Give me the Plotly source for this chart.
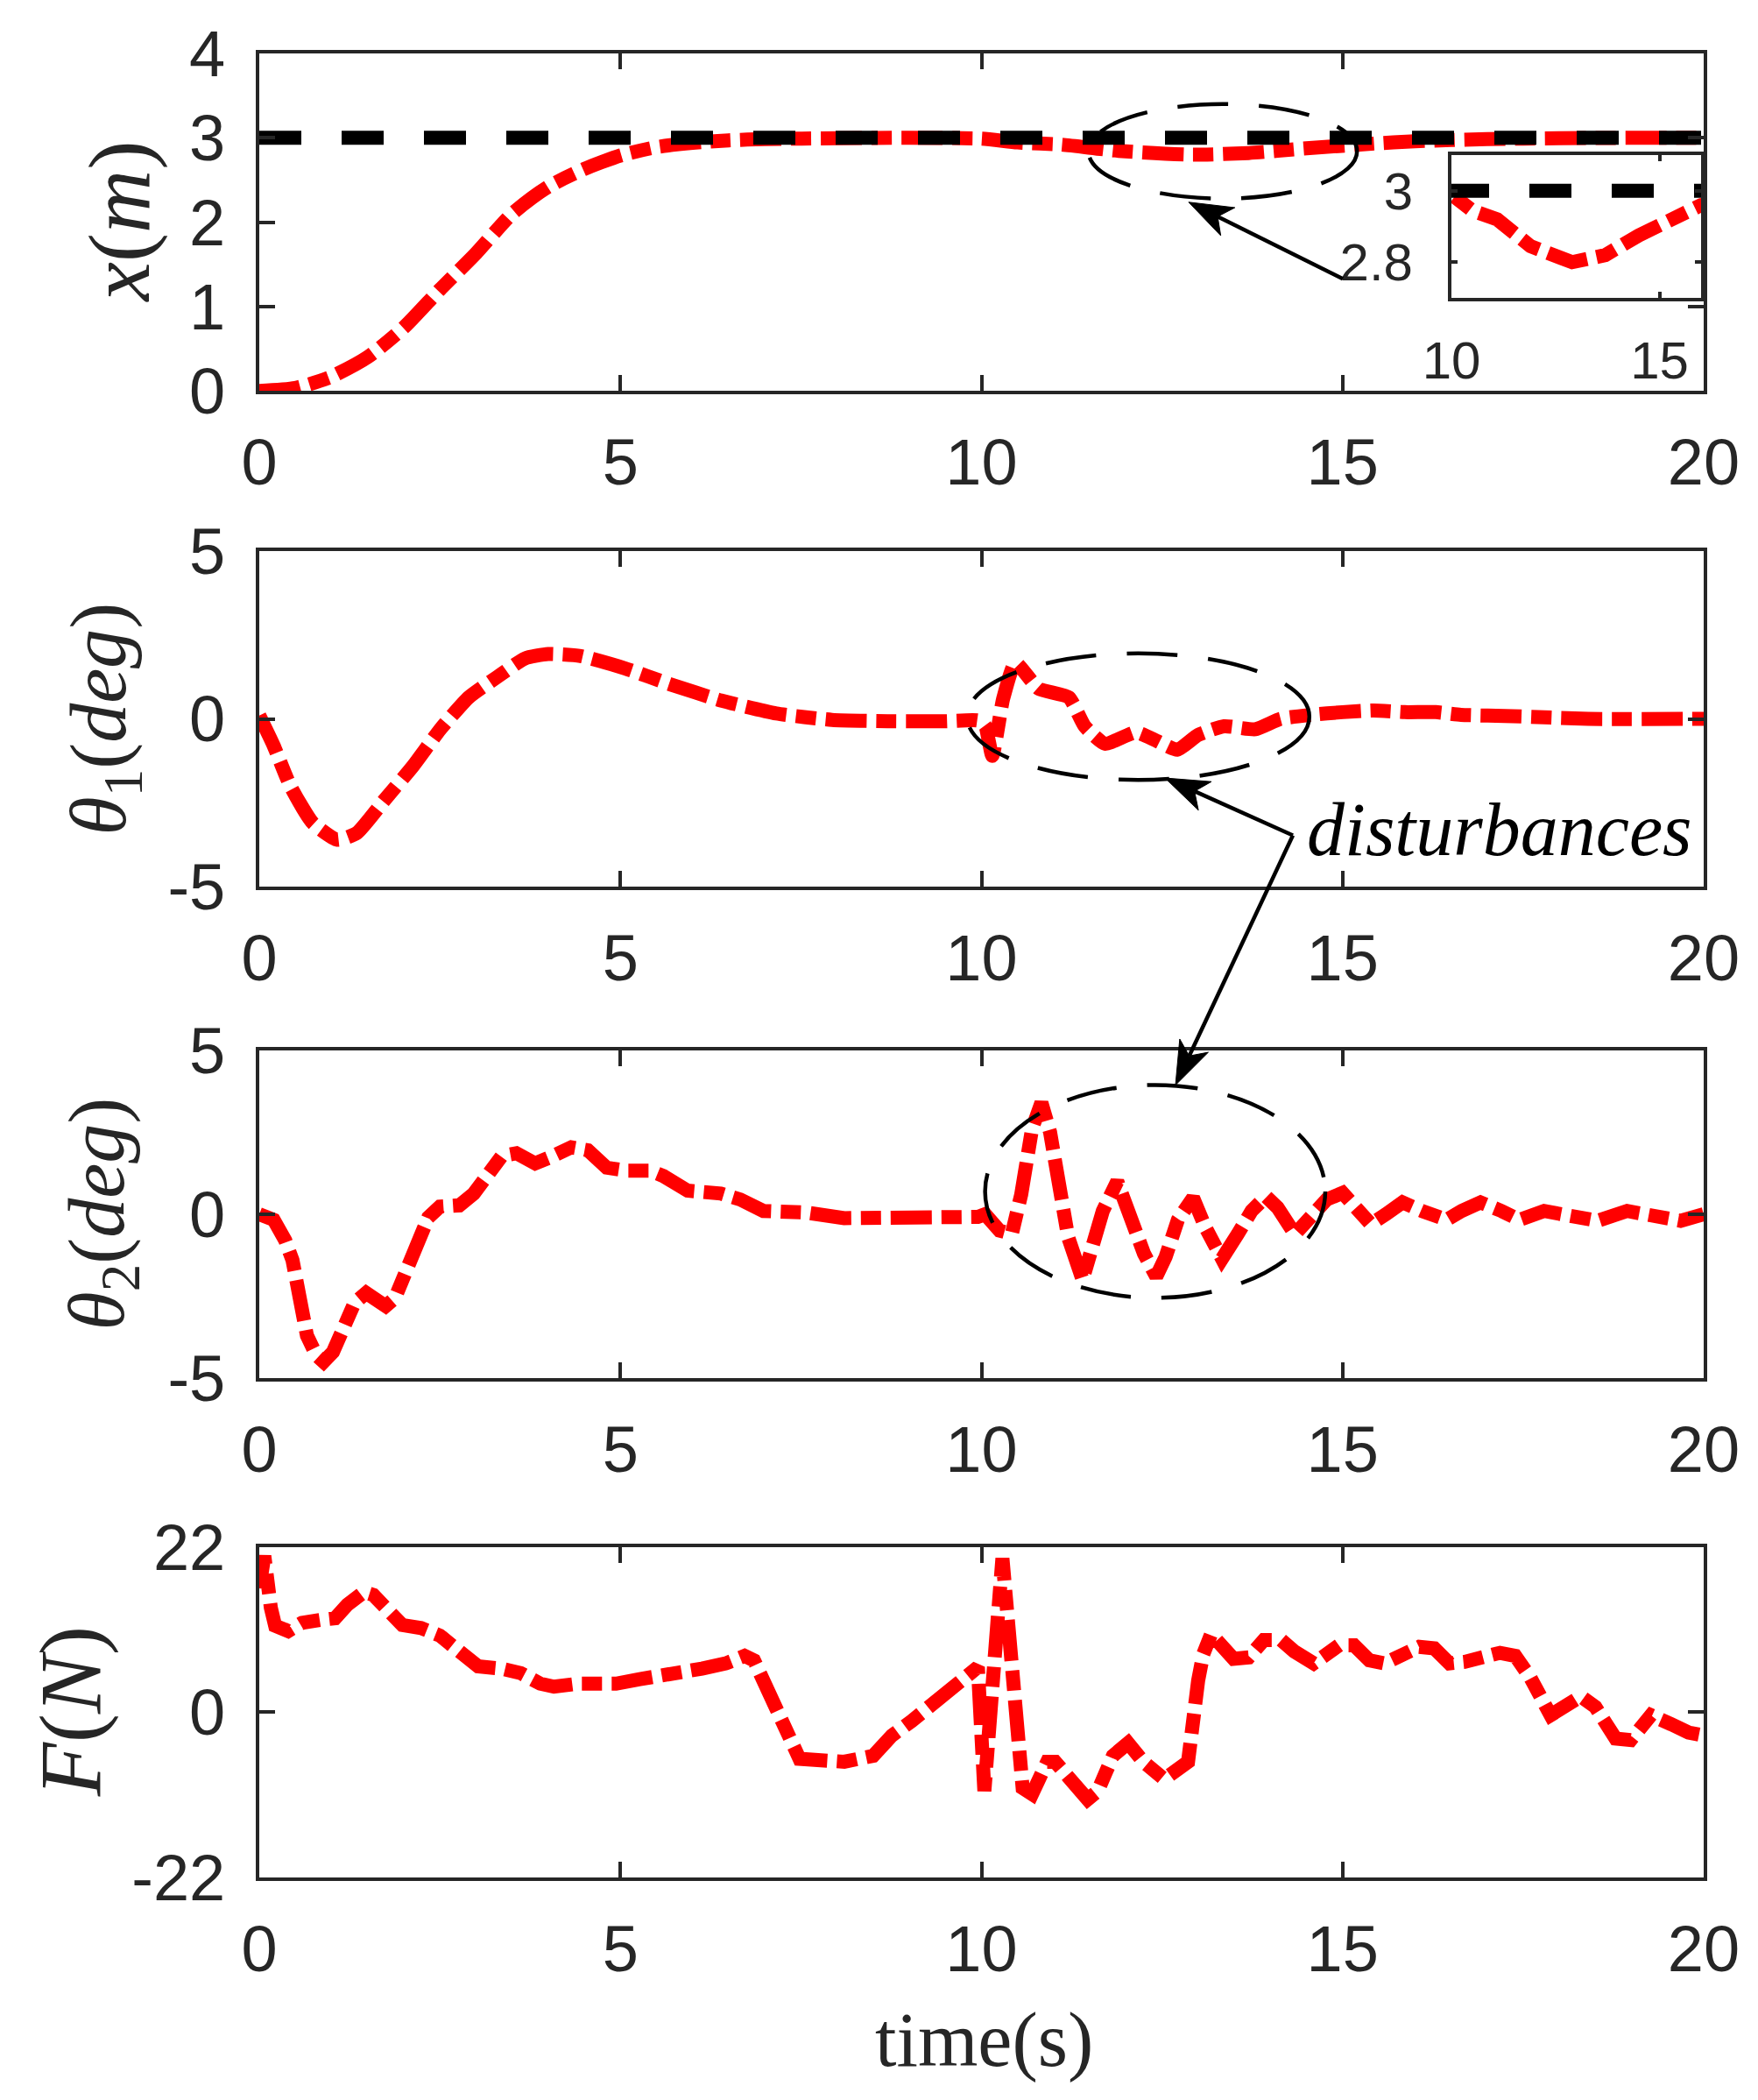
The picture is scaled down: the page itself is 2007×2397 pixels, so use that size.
import math
import plotly.graph_objects as go

# ---- data ----
t_x = [0, 0.5, 1.0, 1.5, 2.0, 2.5, 3.0, 3.5, 4.0, 4.5, 5.0, 5.5, 6.0, 6.5, 7.0, 8.0, 9.0, 10.0,
       10.5, 11.1, 11.9, 12.9, 13.7, 14.5, 15.4, 16.0, 17.0, 18.0, 19.0, 20.0]
x_pos = [0, 0.035, 0.17, 0.4, 0.75, 1.2, 1.63, 2.1, 2.42, 2.63, 2.79, 2.89, 2.94, 2.97, 2.985, 2.995, 3.0, 2.99,
         2.945, 2.92, 2.845, 2.80, 2.82, 2.875, 2.93, 2.96, 2.985, 2.995, 3.0, 3.0]
t_ref = [0, 20]
x_ref = [3, 3]

t_th1 = [0, 0.2, 0.43, 0.74, 1.08, 1.35, 1.74, 2.13, 2.51, 2.9, 3.29, 3.68, 4.0, 4.45, 5.07, 5.69,
         6.39, 7.16, 7.93, 8.7, 9.5, 9.95, 10.05, 10.15, 10.3, 10.47, 10.79, 11.21, 11.43, 11.71,
         12.14, 12.43, 12.71, 13.0, 13.36, 13.79, 14.14, 14.57, 15.0, 15.43, 15.86, 16.29, 16.64,
         17.36, 18.4, 20.0]
th1 = [0.1, -0.8, -2.0, -3.1, -3.6, -3.4, -2.4, -1.4, -0.3, 0.64, 1.24, 1.8, 1.93, 1.87, 1.5, 1.03,
       0.55, 0.16, -0.03, -0.07, -0.07, -0.05, -0.2, -1.1, 0.6, 1.67, 0.9, 0.64, -0.22, -0.74,
       -0.4, -0.66, -0.92, -0.48, -0.22, -0.31, 0.0, 0.12, 0.2, 0.25, 0.2, 0.2, 0.12,
       0.08, 0.0, 0.0]

t_th2 = [0, 0.2, 0.36, 0.46, 0.56, 0.66, 0.79, 0.89, 1.02, 1.15, 1.32, 1.48, 1.75, 1.88, 2.04, 2.18,
         2.34, 2.5, 2.77, 2.97, 3.16, 3.36, 3.56, 3.82, 4.02, 4.32, 4.55, 4.81, 5.08, 5.41, 5.6, 5.93,
         6.39, 6.66, 6.98, 7.58, 8.1, 9.03, 9.95,
         10.05, 10.25, 10.42, 10.55, 10.7, 10.83, 10.95, 11.08, 11.2, 11.4, 11.54, 11.68, 11.88,
         12.08, 12.25, 12.42, 12.55, 12.72, 12.93, 13.1, 13.33, 13.55, 13.74, 13.94, 14.1, 14.34,
         14.55, 14.78, 15.0, 15.2, 15.39, 15.6, 15.83, 16.1, 16.44, 16.65, 16.91, 17.2, 17.45,
         17.79, 18.1, 18.53, 18.94, 19.3, 19.68, 20.0]
th2 = [0, -0.17, -0.8, -1.4, -2.55, -3.7, -4.3, -4.5, -4.2, -3.45, -2.7, -2.4, -2.8, -2.55, -1.75, -0.8,
       -0.1, 0.23, 0.27, 0.63, 1.25, 1.78, 1.86, 1.55, 1.73, 2.04, 1.95, 1.42, 1.33, 1.33, 1.16, 0.72,
       0.63, 0.45, 0.1, 0.05, -0.12, -0.12, -0.08,
       0.0, -0.5, -0.6, 0.6, 2.6, 3.4, 2.5, 0.8, -0.7, -2.0, -1.1, 0.1, 1.0,
       -0.34, -1.2, -1.9, -1.3, -0.17, 0.5, -0.4, -1.36, -0.6, 0.1, 0.54, 0.2, -0.61,
       -0.1, 0.45, 0.65, 0.2, -0.3, 0.0, 0.36, 0.1, -0.17, 0.1, 0.36, 0.1, -0.17,
       0.1, 0.0, -0.2, 0.1, 0.0, -0.2, 0.0]

t_f = [0, 0.07, 0.16, 0.22, 0.4, 0.59, 0.86, 1.05, 1.22, 1.45, 1.58, 1.78, 1.98, 2.24, 2.5, 2.77,
       3.03, 3.36, 3.62, 3.89, 4.08, 4.41, 4.94, 5.27, 5.73, 6.13, 6.46, 6.72, 6.85, 7.05, 7.21,
       7.35, 7.48, 7.71, 8.1, 8.5, 8.76, 9.03, 9.29, 9.55, 9.82, 9.95, 10.04, 10.11, 10.22, 10.29,
       10.39, 10.5, 10.57, 10.7, 10.91, 11.02, 11.19, 11.47, 11.61, 11.82, 12.03, 12.24, 12.53,
       12.72, 12.86, 13.0, 13.07, 13.18, 13.28, 13.49, 13.7, 13.91, 14.15, 14.33, 14.6, 14.95,
       15.16, 15.37, 15.58, 16.06, 16.27, 16.48, 16.69, 17.18, 17.39, 17.6, 17.88, 18.09, 18.3,
       18.5, 18.78, 18.99, 19.27, 19.55, 19.79, 20.0]
force = [16.5, 20.8, 13.9, 11.5, 10.8, 11.9, 12.3, 12.5, 14.3, 16.0, 15.6, 13.9, 11.6, 11.2, 10.2, 8.1,
         6.1, 5.8, 5.2, 3.8, 3.4, 3.8, 3.8, 4.4, 5.4, 5.8, 6.5, 7.5, 6.9, 3.1, -0.4,
         -3.5, -6.2, -6.2, -6.6, -5.8, -3.1, -1.2, 0.7, 2.7, 5.0, 6.0, -10.5, -3.5, 11.9, 20.5,
         8.1, -3.5, -10.1, -10.9, -6.6, -6.6, -8.5, -11.6, -10.5, -5.8, -4.1, -6.6, -8.9,
         -7.4, -6.6, 4.2, 7.7, 10.4, 9.2, 7.1, 7.3, 9.6, 9.6, 8.1, 6.5, 8.9,
         8.9, 6.9, 6.5, 8.7, 8.5, 6.5, 6.7, 7.9, 7.5, 4.6, -0.4, 0.7, 2.1,
         0.7, -3.5, -3.7, -0.4, -1.6, -2.7, -3.1]

x_ticks = [0, 5, 10, 15, 20]

# ---- layout helpers (pixel positions of the reference) ----
WIDTH, HEIGHT = 2007, 2397
OFF = 8  # default body margin of the html page, kept on both sides so nothing scrolls
L, R, T, B = 296, 1945, 46, 2143
PW, PH = R - L, B - T


def px(x):
    return (x - L) / PW


def py(y):
    return (B - y) / PH


AX = '#262626'
RED = '#FF0000'
red_line = dict(color=RED, width=16, dash='47px,11px,23px,11px')
ref_line = dict(color='black', width=16, dash='48px,46px')

fig = go.Figure()
fig.add_scatter(x=t_x, y=x_pos, mode='lines', line=dict(shape='spline', smoothing=0.6, **red_line),
                xaxis='x', yaxis='y')
fig.add_scatter(x=t_ref, y=x_ref, mode='lines', line=ref_line, xaxis='x', yaxis='y')
fig.add_scatter(x=t_th1, y=th1, mode='lines', line=dict(shape='spline', smoothing=0.5, **red_line),
                xaxis='x2', yaxis='y2')
fig.add_scatter(x=t_th2, y=th2, mode='lines', line=red_line, xaxis='x3', yaxis='y3')
fig.add_scatter(x=t_f, y=force, mode='lines', line=red_line, xaxis='x4', yaxis='y4')
# inset
fig.add_scatter(x=t_x, y=x_pos, mode='lines', line=red_line, xaxis='x5', yaxis='y5')
fig.add_scatter(x=t_ref, y=x_ref, mode='lines', line=ref_line, xaxis='x5', yaxis='y5')

tickfont = dict(family='Liberation Sans, Arial', size=74, color=AX)
common = dict(showline=True, linewidth=4, linecolor=AX, mirror='ticks', ticks='inside',
              ticklen=18, tickwidth=4, tickcolor=AX, showgrid=False, zeroline=False,
              tickfont=tickfont)

panels = [(46, 434, [0, 4], [0, 1, 2, 3, 4]),
          (618, 1004, [-5, 5], [-5, 0, 5]),
          (1192, 1569, [-5, 5], [-5, 0, 5]),
          (1763, 2143, [-22, 22], [-22, 0, 22])]

fw, fh = WIDTH - 2 * OFF, HEIGHT - 2 * OFF
layout = dict(width=fw, height=fh, showlegend=False,
              paper_bgcolor='white', plot_bgcolor='white',
              margin=dict(l=L - OFF, r=fw - (R - OFF), t=T - OFF, b=fh - (B - OFF)))
for i, (top, bot, yr, yt) in enumerate(panels, start=1):
    sfx = '' if i == 1 else str(i)
    layout['xaxis' + sfx] = dict(domain=[0, 1], range=[0, 20], tickvals=x_ticks,
                                 anchor='y' + sfx, ticklabelstandoff=14, **common)
    layout['yaxis' + sfx] = dict(domain=[py(bot), py(top)], range=yr, tickvals=yt,
                                 ticktext=[str(v) for v in yt],
                                 anchor='x' + sfx, ticklabelstandoff=20, **common)

inset_common = dict(common)
inset_common.update(ticklen=7, tickfont=dict(family='Liberation Sans, Arial', size=60, color=AX))
layout['xaxis5'] = dict(domain=[px(1657), px(1942)], range=[10, 16], tickvals=[10, 15],
                        anchor='y5', ticklabelstandoff=16, **inset_common)
layout['yaxis5'] = dict(domain=[py(327), py(163)], range=[2.7, 3.1], tickvals=[2.8, 3],
                        ticktext=['2.8', '3'], anchor='x5', ticklabelstandoff=28, **inset_common)
fig.update_layout(**layout)

# ellipses around the disturbances
ell = dict(type='circle', line=dict(color='black', width=4.5, dash='58px,35px'))
fig.add_shape(xref='x', yref='y', x0=11.48, x1=15.2, y0=2.28, y1=3.40, **ell)
fig.add_shape(xref='x2', yref='y2', x0=9.8, x1=14.54, y0=-1.82, y1=1.95, **ell)
fig.add_shape(xref='x3', yref='y3', x0=10.05, x1=14.76, y0=-2.55, y1=3.94, **ell)


# arrows (tip, tail) in reference pixels, drawn as a shaft plus a notched head
def add_arrow(tip, tail, head_len=50, half_w=18, notch=37):
    dx, dy = tip[0] - tail[0], tip[1] - tail[1]
    n = math.hypot(dx, dy)
    ux, uy = dx / n, dy / n
    bx, by = -ux, -uy
    qx, qy = -uy, ux
    p1 = (tip[0] + bx * head_len + qx * half_w, tip[1] + by * head_len + qy * half_w)
    p2 = (tip[0] + bx * notch, tip[1] + by * notch)
    p3 = (tip[0] + bx * head_len - qx * half_w, tip[1] + by * head_len - qy * half_w)
    fig.add_shape(type='line', xref='paper', yref='paper',
                  x0=px(tail[0]), y0=py(tail[1]), x1=px(p2[0]), y1=py(p2[1]),
                  line=dict(color='black', width=4.5))
    path = 'M{},{} L{},{} L{},{} L{},{} Z'.format(px(tip[0]), py(tip[1]), px(p1[0]), py(p1[1]),
                                                  px(p2[0]), py(p2[1]), px(p3[0]), py(p3[1]))
    fig.add_shape(type='path', xref='paper', yref='paper', path=path,
                  fillcolor='black', line=dict(color='black', width=1))


add_arrow((1357, 217), (1533, 305))
add_arrow((1330, 879), (1476, 945))
add_arrow((1342, 1232), (1476, 945))

serif = 'Liberation Serif, Times New Roman, serif'
fig.add_annotation(x=px(1712), y=py(938), xref='paper', yref='paper', showarrow=False,
                   xanchor='center', yanchor='middle',
                   text='<i>disturbances</i>', font=dict(family=serif, size=86, color='black'))

ylabels = [('<i>x</i>(<i>m</i>)', 137, 240, 100),
           ('<i>θ</i><sub>1</sub>(<i>deg</i>)', 120, 811, 90),
           ('<i>θ</i><sub>2</sub>(<i>deg</i>)', 117, 1380, 90),
           ('<i>F</i>(<i>N</i>)', 80, 1953, 100)]
for txt, cx, cy, size in ylabels:
    fig.add_annotation(x=px(cx), y=py(cy), xref='paper', yref='paper', showarrow=False,
                       xanchor='center', yanchor='middle',
                       text=txt, textangle=-90, font=dict(family=serif, size=size, color=AX))
fig.add_annotation(x=px(1123), y=py(2330), xref='paper', yref='paper', showarrow=False,
                   xanchor='center', yanchor='middle',
                   text='time(s)', font=dict(family=serif, size=88, color=AX))

fig.write_html("out.html")
